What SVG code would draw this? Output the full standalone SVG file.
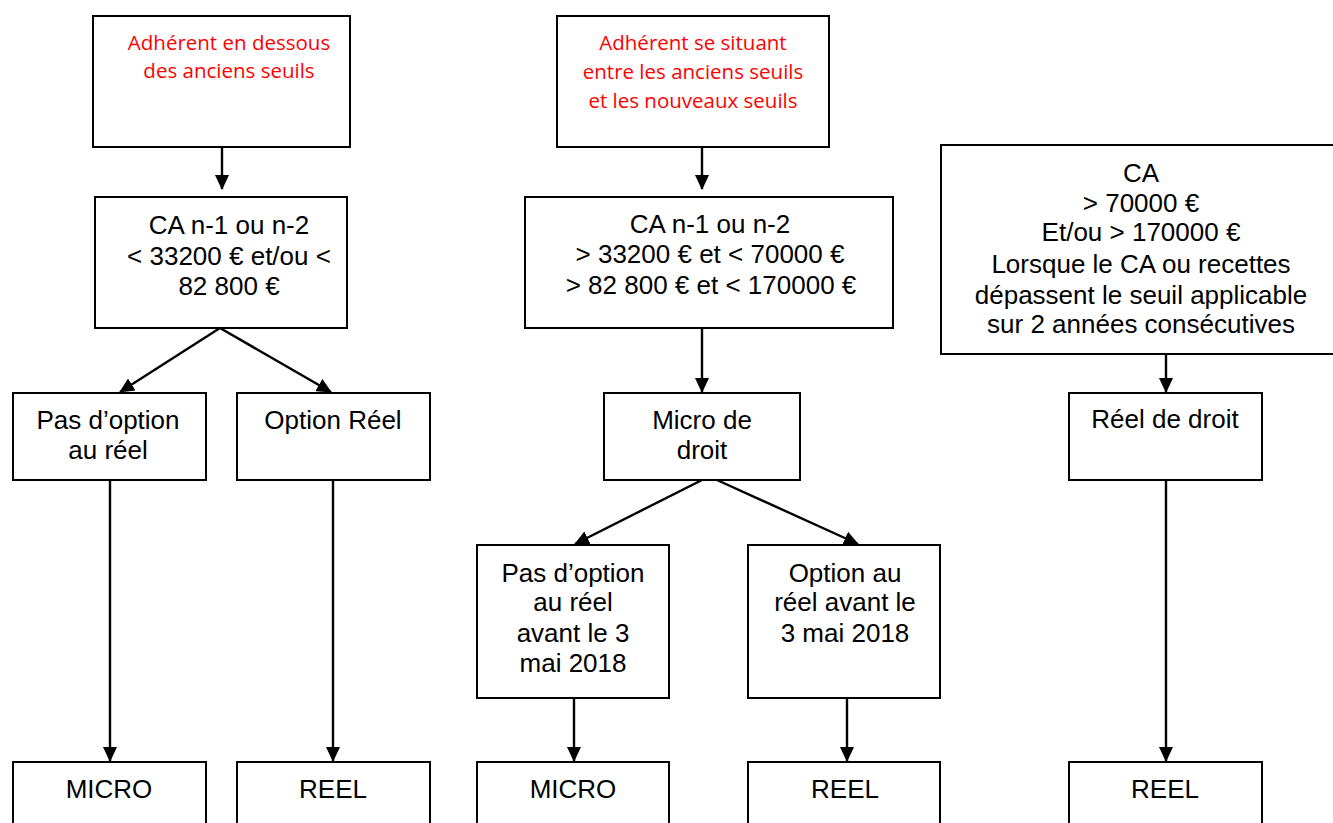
<svg xmlns="http://www.w3.org/2000/svg" width="1333" height="823" viewBox="0 0 1333 823">
<style>
.box{fill:#fff;stroke:#000;stroke-width:2}
.t{font-family:"Liberation Sans",Arial,sans-serif;font-size:26px;fill:#000;text-anchor:middle}
.r{font-family:"Open Sans","Noto Sans",sans-serif;font-size:20.5px;fill:#ff0000;text-anchor:middle}
.c{stroke:#000;stroke-width:2.4;fill:none;marker-end:url(#ah)}
</style>
<defs>
<marker id="ah" markerWidth="15" markerHeight="14" refX="14" refY="7" orient="auto" markerUnits="userSpaceOnUse">
<path d="M0,0 L15,7 L0,14 Z" fill="#000"/>
</marker>
</defs>
<rect width="1333" height="823" fill="#fff"/>
<g id="connectors">
<line class="c" x1="222" y1="147" x2="222" y2="189"/>
<line class="c" x1="702" y1="147" x2="702" y2="189"/>
<line class="c" x1="220" y1="328" x2="120" y2="392"/>
<line class="c" x1="220" y1="328" x2="331" y2="392"/>
<line class="c" x1="702" y1="328" x2="702" y2="392"/>
<line class="c" x1="1166" y1="354" x2="1166" y2="392"/>
<line class="c" x1="702" y1="480" x2="575" y2="544"/>
<line class="c" x1="717" y1="480" x2="858" y2="544"/>
<line class="c" x1="110" y1="480" x2="110" y2="761"/>
<line class="c" x1="333" y1="480" x2="333" y2="761"/>
<line class="c" x1="574" y1="698" x2="574" y2="761"/>
<line class="c" x1="847" y1="698" x2="847" y2="761"/>
<line class="c" x1="1166" y1="480" x2="1166" y2="761"/>
</g>
<g id="n1"><rect class="box" x="93" y="16" width="257" height="131"/>
<text class="r" x="229" y="50">Adhérent en dessous</text><text class="r" x="229" y="78">des anciens seuils</text></g>
<g id="n2"><rect class="box" x="557" y="16" width="272" height="131"/>
<text class="r" x="693" y="50">Adhérent se situant</text><text class="r" x="693" y="79">entre les anciens seuils</text><text class="r" x="693" y="108">et les nouveaux seuils</text></g>
<g id="n3"><rect class="box" x="95" y="197" width="252" height="131"/>
<text class="t" x="229" y="234">CA n-1 ou n-2</text><text class="t" x="229" y="265">&lt; 33200 € et/ou &lt;</text><text class="t" x="229" y="295">82 800 €</text></g>
<g id="n4"><rect class="box" x="525" y="197" width="368" height="131"/>
<text class="t" x="710" y="233">CA n-1 ou n-2</text><text class="t" x="710" y="263">&gt; 33200 € et &lt; 70000 €</text><text class="t" x="711" y="294">&gt; 82 800 € et &lt; 170000 €</text></g>
<g id="n5"><rect class="box" x="941" y="145" width="400" height="209"/>
<text class="t" x="1141" y="182">CA</text><text class="t" x="1141" y="212">&gt; 70000 €</text><text class="t" x="1141" y="241">Et/ou &gt; 170000 €</text><text class="t" x="1141" y="273">Lorsque le CA ou recettes</text><text class="t" x="1141" y="304">dépassent le seuil applicable</text><text class="t" x="1141" y="333">sur 2 années consécutives</text></g>
<g id="n6"><rect class="box" x="13" y="393" width="193" height="87"/>
<text class="t" x="108" y="429">Pas d’option</text><text class="t" x="108" y="459">au réel</text></g>
<g id="n7"><rect class="box" x="237" y="393" width="193" height="87"/>
<text class="t" x="333" y="429">Option Réel</text></g>
<g id="n8"><rect class="box" x="604" y="393" width="196" height="87"/>
<text class="t" x="702" y="429">Micro de</text><text class="t" x="702" y="459">droit</text></g>
<g id="n9"><rect class="box" x="1069" y="393" width="193" height="87"/>
<text class="t" x="1165" y="428">Réel de droit</text></g>
<g id="n10"><rect class="box" x="477" y="545" width="192" height="153"/>
<text class="t" x="573" y="582">Pas d’option</text><text class="t" x="573" y="611">au réel</text><text class="t" x="573" y="642">avant le 3</text><text class="t" x="573" y="672">mai 2018</text></g>
<g id="n11"><rect class="box" x="748" y="545" width="192" height="153"/>
<text class="t" x="845" y="582">Option au</text><text class="t" x="845" y="611">réel avant le</text><text class="t" x="845" y="642">3 mai 2018</text></g>
<g id="n12"><rect class="box" x="13" y="762" width="193" height="80"/><text class="t" x="109" y="798">MICRO</text></g>
<g id="n13"><rect class="box" x="237" y="762" width="193" height="80"/><text class="t" x="333" y="798">REEL</text></g>
<g id="n14"><rect class="box" x="477" y="762" width="192" height="80"/><text class="t" x="573" y="798">MICRO</text></g>
<g id="n15"><rect class="box" x="748" y="762" width="192" height="80"/><text class="t" x="845" y="798">REEL</text></g>
<g id="n16"><rect class="box" x="1069" y="762" width="193" height="80"/><text class="t" x="1165" y="798">REEL</text></g>
</svg>
